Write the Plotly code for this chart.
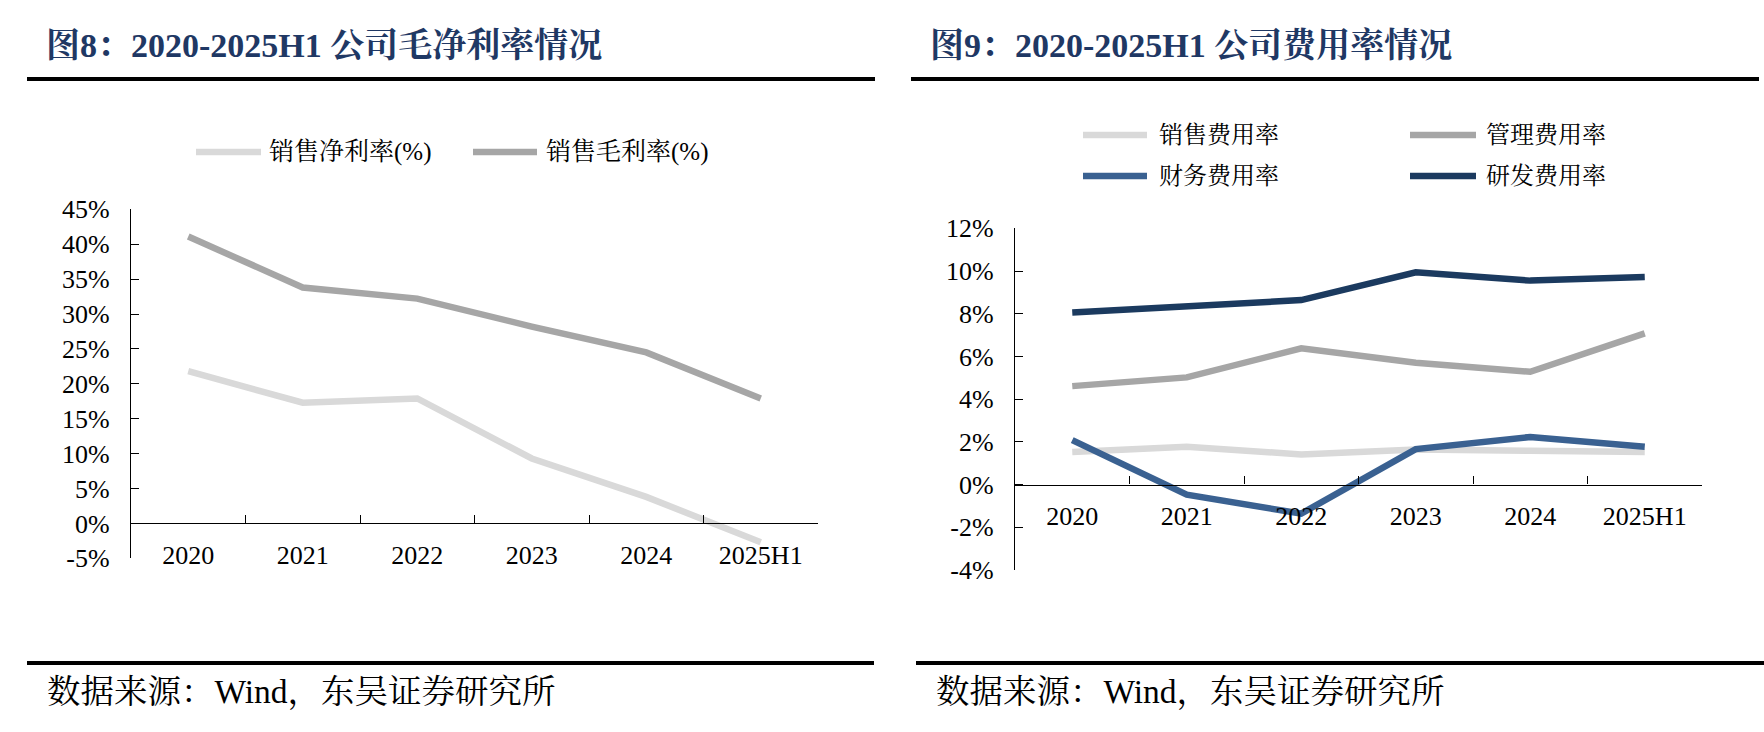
import plotly.graph_objects as go

W, H = 1764, 732

# ---------------- data ----------------
categories = ["2020", "2021", "2022", "2023", "2024", "2025H1"]

# Figure 8: margins (%)
net_margin = [21.8, 17.3, 17.9, 9.3, 3.8, -2.7]
gross_margin = [41.1, 33.8, 32.2, 28.2, 24.5, 17.9]
left_names = ["销售净利率(%)", "销售毛利率(%)"]

# Figure 9: expense ratios (%)
sales_exp = [1.53, 1.77, 1.41, 1.64, 1.58, 1.53]
admin_exp = [4.61, 5.02, 6.38, 5.70, 5.28, 7.08]
fin_exp = [2.08, -0.47, -1.36, 1.66, 2.23, 1.77]
rd_exp = [8.06, 8.33, 8.64, 9.94, 9.55, 9.72]
right_names = ["销售费用率", "管理费用率", "财务费用率", "研发费用率"]

left_ticks = [-5, 0, 5, 10, 15, 20, 25, 30, 35, 40, 45]
right_ticks = [-4, -2, 0, 2, 4, 6, 8, 10, 12]

titles = ["图8：2020-2025H1 公司毛净利率情况", "图9：2020-2025H1 公司费用率情况"]
source = "数据来源：Wind，东吴证券研究所"

# ---------------- style ----------------
C_LIGHT = "#D9D9D9"
C_MID = "#A6A6A6"
C_BLUE = "#3A6191"
C_NAVY = "#1B3A5F"
TITLE_C = "#1F3864"
FONT = "Times New Roman, Liberation Serif, Noto Serif CJK SC, Noto Sans CJK SC, serif"
LW = 6.5


def px(x):
    return x / W


def py(y):
    return 1 - y / H


fig = go.Figure()

# left chart
for name, vals, col in [(left_names[0], net_margin, C_LIGHT), (left_names[1], gross_margin, C_MID)]:
    fig.add_trace(go.Scatter(x=categories, y=vals, mode="lines", name=name,
                             line=dict(color=col, width=LW), xaxis="x", yaxis="y",
                             showlegend=False))

# right chart
for name, vals, col in [(right_names[0], sales_exp, C_LIGHT), (right_names[1], admin_exp, C_MID),
                        (right_names[2], fin_exp, C_BLUE), (right_names[3], rd_exp, C_NAVY)]:
    fig.add_trace(go.Scatter(x=categories, y=vals, mode="lines", name=name,
                             line=dict(color=col, width=LW), xaxis="x2", yaxis="y2",
                             showlegend=False))

# domains
lx = [px(131), px(818)]
ly = [py(558.3), py(209.3)]
rx = [px(1015), px(1702)]
ry = [py(570), py(228.3)]

l_zero = ly[0] + (0 - (-5)) / 50 * (ly[1] - ly[0])
r_zero = ry[0] + (0 - (-4)) / 16 * (ry[1] - ry[0])

tickfont = dict(family=FONT, size=26, color="black")

common_x = dict(type="category", range=[-0.5, 5.5], showline=True, linecolor="black", linewidth=1.3,
                ticks="inside", tickson="boundaries", ticklen=8, tickcolor="black", tickwidth=1.3,
                showgrid=False, zeroline=False, tickfont=tickfont, ticklabelstandoff=8,
                fixedrange=True, automargin=False)
common_y = dict(showline=True, linecolor="black", linewidth=1.3, ticks="inside", ticklen=8,
                tickcolor="black", tickwidth=1.3, showgrid=False, zeroline=False, tickfont=tickfont,
                tickmode="array", ticklabelstandoff=15, fixedrange=True, automargin=False)

fig.update_layout(
    width=W, height=H,
    margin=dict(l=0, r=0, t=0, b=0, pad=0),
    paper_bgcolor="white", plot_bgcolor="white",
    font=dict(family=FONT, color="black"),
    showlegend=False,
    xaxis=dict(domain=lx, anchor="free", position=l_zero, **common_x),
    yaxis=dict(domain=ly, anchor="x", range=[-5, 45], tickvals=left_ticks,
               ticktext=[f"{v}%" for v in left_ticks], **common_y),
    xaxis2=dict(domain=rx, anchor="free", position=r_zero, **common_x),
    yaxis2=dict(domain=ry, anchor="x2", range=[-4, 12], tickvals=right_ticks,
                ticktext=[f"{v}%" for v in right_ticks], **common_y),
)

shapes = []
annotations = []

# titles and rules
for i, (tx, l0, l1, b0, b1) in enumerate([(44, 27, 875, 27, 874), (928, 911, 1759, 916, 1764)]):
    annotations.append(dict(text=f"<b>{titles[i]}</b>", x=px(tx), y=py(45), xref="paper", yref="paper",
                            xanchor="left", yanchor="middle", showarrow=False,
                            font=dict(family=FONT, size=34, color=TITLE_C)))
    shapes.append(dict(type="line", xref="paper", yref="paper", x0=px(l0), x1=px(l1), y0=py(79), y1=py(79),
                       line=dict(color="black", width=4)))
    shapes.append(dict(type="line", xref="paper", yref="paper", x0=px(b0), x1=px(b1), y0=py(663), y1=py(663),
                       line=dict(color="black", width=4)))
    annotations.append(dict(text=source, x=px(b0 + 18), y=py(692), xref="paper", yref="paper",
                            xanchor="left", yanchor="middle", showarrow=False,
                            font=dict(family=FONT, size=33.5, color="black")))

# legends (manual)
legend_items = [
    (left_names[0], C_LIGHT, 196, 261, 267, 152, 25),
    (left_names[1], C_MID, 473, 537, 544, 152, 25),
    (right_names[0], C_LIGHT, 1083, 1147, 1157, 135, 24),
    (right_names[1], C_MID, 1410, 1476, 1484, 135, 24),
    (right_names[2], C_BLUE, 1083, 1147, 1157, 176, 24),
    (right_names[3], C_NAVY, 1410, 1476, 1484, 176, 24),
]
for name, col, x0, x1, tx, y, fs in legend_items:
    shapes.append(dict(type="line", xref="paper", yref="paper", x0=px(x0), x1=px(x1), y0=py(y), y1=py(y),
                       line=dict(color=col, width=LW)))
    annotations.append(dict(text=name, x=px(tx), y=py(y), xref="paper", yref="paper",
                            xanchor="left", yanchor="middle", showarrow=False,
                            font=dict(family=FONT, size=fs, color="black")))

fig.update_layout(shapes=shapes, annotations=annotations)

fig.write_html("out.html",
               config={"displayModeBar": False},
               post_script="document.body.style.margin='0px';document.body.style.overflow='hidden';")
